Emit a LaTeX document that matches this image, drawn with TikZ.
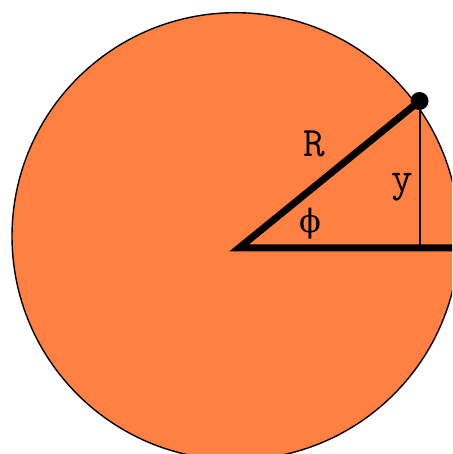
\documentclass[tikz,border=0pt]{standalone}
\usepackage{fontspec}
\newfontfamily\grk{DejaVu Serif}
\definecolor{disc}{HTML}{FF8040}
\tikzset{
  lbl/.style={inner sep=0pt, font=\ttfamily\fontsize{42}{42}\selectfont},
  thick line/.style={line width=7pt, line join=miter},
}
\begin{document}
\begin{tikzpicture}[x=1pt,y=1pt]
\useasboundingbox (0,0) rectangle (452,454);
\clip (0,0) rectangle (452,454);
\fill[white] (0,0) rectangle (452,454);
\draw[fill=disc, line width=1.4pt] (235.6,217.7) circle (223.6);
\coordinate (O) at (239,206);
\coordinate (P) at (419.5,353);
\coordinate (F) at (419.5,206);
\coordinate (E) at (470,206);
\draw[line width=2pt] (P) -- (F);
\draw[thick line] (P) -- (O) -- (E);
\node[circle, fill=black, minimum size=18pt, inner sep=0pt] (dot) at (P) {};
\node[lbl] (R) at (314,310.5) {R};
\node[lbl] (Y) at (402,266.5) {y};
\node[inner sep=0pt, font=\grk\fontsize{32}{32}\selectfont] (phi) at (310,230.5) {ϕ};
\end{tikzpicture}
\end{document}
